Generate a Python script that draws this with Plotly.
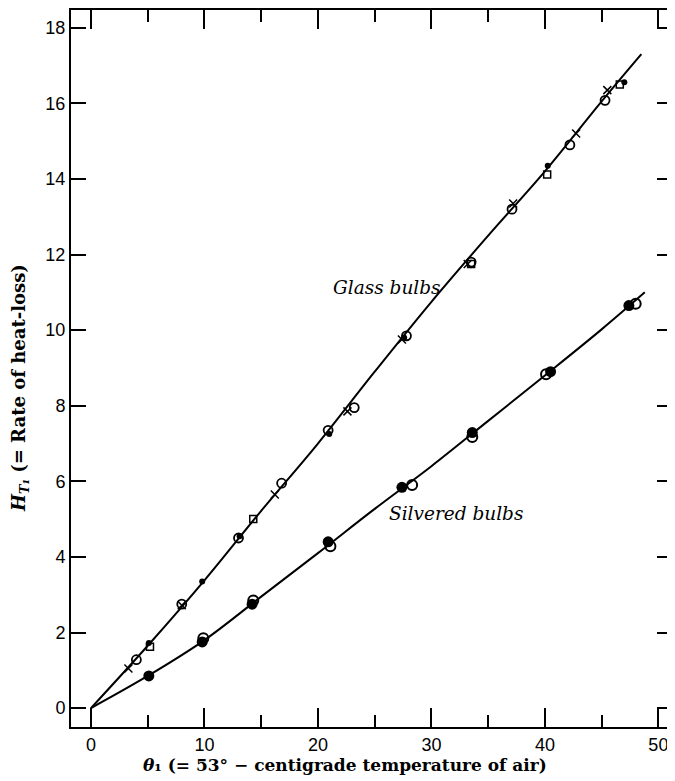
import plotly.graph_objects as go

# Fitted curves
glass_curve_x = [0, 5, 10, 15, 20, 25, 30, 35, 40, 45, 48.5]
glass_curve_y = [0, 1.65, 3.38, 5.22, 7.0, 8.9, 10.75, 12.5, 14.2, 16.05, 17.3]
silver_curve_x = [0, 5, 10, 15, 20, 25, 30, 35, 40, 45, 48.8]
silver_curve_y = [0, 0.85, 1.8, 2.95, 4.1, 5.27, 6.4, 7.6, 8.8, 10.02, 11.0]

# Glass bulb observations
glass_cross_x = [3.3, 8.0, 16.2, 22.6, 27.4, 33.2, 37.2, 42.75, 45.5]
glass_cross_y = [1.05, 2.72, 5.65, 7.85, 9.75, 11.75, 13.35, 15.2, 16.35]
glass_circle_x = [4.0, 8.0, 13.0, 16.8, 20.9, 23.2, 27.8, 33.5, 37.1, 42.2, 45.3]
glass_circle_y = [1.28, 2.75, 4.5, 5.95, 7.35, 7.95, 9.85, 11.8, 13.2, 14.9, 16.08]
glass_square_x = [5.2, 14.3, 33.5, 40.2, 46.6]
glass_square_y = [1.62, 5.0, 11.75, 14.12, 16.5]
glass_dot_x = [5.1, 9.8, 13.1, 21.0, 27.6, 40.25, 47.0]
glass_dot_y = [1.72, 3.35, 4.55, 7.25, 9.8, 14.35, 16.56]

# Silvered bulb observations
silver_filled_x = [5.1, 9.8, 14.2, 20.9, 27.4, 33.6, 40.5, 47.4]
silver_filled_y = [0.85, 1.75, 2.75, 4.4, 5.84, 7.29, 8.9, 10.65]
silver_open_x = [9.9, 14.3, 21.1, 28.3, 33.6, 40.1, 48.0]
silver_open_y = [1.85, 2.85, 4.28, 5.9, 7.17, 8.83, 10.7]

x_ticks = [0, 10, 20, 30, 40, 50]
y_ticks = [0, 2, 4, 6, 8, 10, 12, 14, 16, 18]

fig = go.Figure()
fig.add_trace(go.Scatter(x=glass_curve_x, y=glass_curve_y, mode="lines", line=dict(color="black", width=2, shape="spline")))
fig.add_trace(go.Scatter(x=silver_curve_x, y=silver_curve_y, mode="lines", line=dict(color="black", width=2, shape="spline")))

fig.add_trace(go.Scatter(x=glass_cross_x, y=glass_cross_y, mode="markers",
                         marker=dict(symbol="x-thin-open", size=8, color="black", line=dict(width=1.5, color="black"))))
fig.add_trace(go.Scatter(x=glass_circle_x, y=glass_circle_y, mode="markers",
                         marker=dict(symbol="circle-open", size=9, color="black", line=dict(width=1.8, color="black"))))
fig.add_trace(go.Scatter(x=glass_square_x, y=glass_square_y, mode="markers",
                         marker=dict(symbol="square-open", size=7, color="black", line=dict(width=1.5, color="black"))))
fig.add_trace(go.Scatter(x=glass_dot_x, y=glass_dot_y, mode="markers",
                         marker=dict(symbol="circle", size=6, color="black")))
fig.add_trace(go.Scatter(x=silver_filled_x, y=silver_filled_y, mode="markers",
                         marker=dict(symbol="circle", size=11, color="black")))
fig.add_trace(go.Scatter(x=silver_open_x, y=silver_open_y, mode="markers",
                         marker=dict(symbol="circle-open", size=10, color="black", line=dict(width=2, color="black"))))

fig.add_annotation(x=26.1, y=11.14, text="<i>Glass bulbs</i>", showarrow=False,
                   font=dict(family="DejaVu Serif", size=18.5, color="black"))
fig.add_annotation(x=32.2, y=5.16, text="<i>Silvered bulbs</i>", showarrow=False,
                   font=dict(family="DejaVu Serif", size=18.5, color="black"))

# Axis titles as annotations for precise placement
fig.add_annotation(xref="paper", yref="paper", x=0.4567, y=-0.053,
                   text="<b><i>θ</i>₁ (= 53° − centigrade temperature of air)</b>",
                   showarrow=False, xanchor="center", yanchor="middle",
                   font=dict(family="DejaVu Serif", size=17, color="black"))
fig.add_annotation(xref="paper", yref="paper", x=-0.085, y=0.4728, textangle=-90,
                   text="<b><i>H<sub>T₁</sub></i> (= Rate of heat-loss)</b>",
                   showarrow=False, xanchor="center", yanchor="middle",
                   font=dict(family="DejaVu Serif", size=18, color="black"))

# page body has an 8px default margin, so the figure is shrunk by 8px
fig.update_layout(
    width=667, height=773,
    margin=dict(l=63, r=3, t=2, b=54),
    paper_bgcolor="white", plot_bgcolor="white",
    showlegend=False,
    font=dict(family="Liberation Sans, Arial, sans-serif", color="black"),
)
fig.update_xaxes(
    automargin=False,
    range=[-1.76, 51.2], tickvals=x_ticks, ticks="inside", ticklen=19, tickwidth=2, tickcolor="black",
    minor=dict(dtick=5, tick0=0, ticks="inside", ticklen=12, tickwidth=2, tickcolor="black"),
    showline=True, linewidth=2, linecolor="black", mirror="allticks", showgrid=False, zeroline=False,
    tickfont=dict(size=18, family="Liberation Sans, Arial, sans-serif"),
)
fig.update_yaxes(
    automargin=False,
    range=[-0.5, 18.47], tickvals=y_ticks, ticks="inside", ticklen=15, tickwidth=2, tickcolor="black",
    showline=True, linewidth=2, linecolor="black", mirror="allticks", showgrid=False, zeroline=False,
    tickfont=dict(size=18, family="Liberation Sans, Arial, sans-serif"),
)

fig.write_html("out.html")
